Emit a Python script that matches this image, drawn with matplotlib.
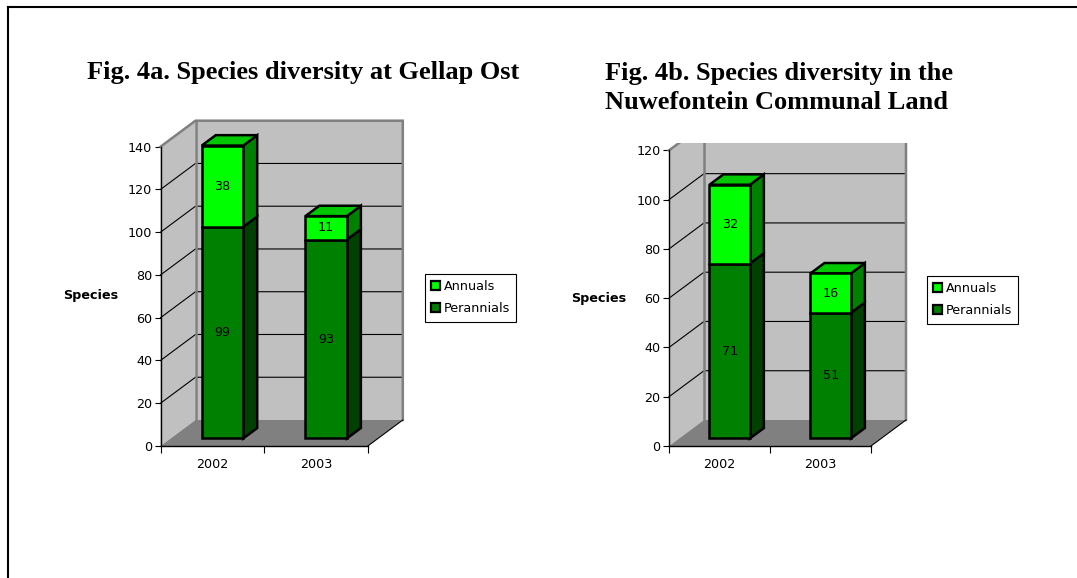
import matplotlib
matplotlib.use('Agg')
import matplotlib.pyplot as plt
from matplotlib.patches import Polygon, Rectangle, Patch
from matplotlib.lines import Line2D

# 데이터
years = ['2002', '2003']
gellap_per = [99, 93]
gellap_ann = [38, 11]
nuwe_per = [71, 51]
nuwe_ann = [32, 16]

title_a = 'Fig. 4a. Species diversity at Gellap Ost'
title_b = 'Fig. 4b. Species diversity in the\nNuwefontein Communal Land'

W, H = 1077, 578
fig = plt.figure(figsize=(W / 100, H / 100), dpi=100)

FS = 9.2  # 작은 글씨 크기

# 색상 (엑셀 3D 막대 느낌)
ann_front, ann_top, ann_side = '#00ff00', '#00c800', '#008000'
per_front, per_side = '#008000', '#004000'
wall, floor_c, border = '#c0c0c0', '#808080', '#808080'

DEPTH_X, DEPTH_Y = 35, 26   # 안쪽 깊이 (픽셀)
F0, F1 = 0.29, 0.69         # 막대 앞/뒤 면의 깊이 위치
ELW = 1.8                   # 막대 테두리 두께


def px_axes(x0, x1, ytop, ybot):
    return fig.add_axes([x0 / W, 1 - ybot / H, (x1 - x0) / W, (ybot - ytop) / H])


def draw_chart(ax, px_box, per, ann, ymax, step, clip_top=None):
    x0, x1, ytop, ybot = px_box
    ncat = len(per)
    ddx = DEPTH_X / ((x1 - x0) / ncat)
    ddy = DEPTH_Y / ((ybot - ytop) / ymax)

    def P(x, y, f):
        return (x + f * ddx, y + f * ddy)

    arts = []
    # 왼쪽 벽, 뒷벽, 바닥
    arts.append(ax.add_patch(Polygon([P(0, 0, 0), P(0, ymax, 0), P(0, ymax, 1), P(0, 0, 1)],
                                     fc=wall, ec='none', zorder=1)))
    arts.append(ax.add_patch(Polygon([P(0, 0, 1), P(ncat, 0, 1), P(ncat, ymax, 1), P(0, ymax, 1)],
                                     fc=wall, ec='none', zorder=1)))
    arts.append(ax.add_patch(Polygon([P(0, 0, 0), P(ncat, 0, 0), P(ncat, 0, 1), P(0, 0, 1)],
                                     fc=floor_c, ec='none', zorder=1)))
    # 격자선
    for v in range(step, ymax, step):
        pts = [P(0, v, 0), P(0, v, 1), P(ncat, v, 1)]
        arts += ax.plot([p[0] for p in pts], [p[1] for p in pts], color='k', lw=0.8, zorder=2)
    # 벽 테두리
    pts = [P(0, ymax, 0), P(0, ymax, 1), P(ncat, ymax, 1), P(ncat, 0, 1)]
    arts += ax.plot([p[0] for p in pts], [p[1] for p in pts], color=border, lw=1.8, zorder=2,
                    solid_joinstyle='miter')
    pts = [P(0, 0, 1), P(0, ymax, 1)]
    arts += ax.plot([p[0] for p in pts], [p[1] for p in pts], color=border, lw=1.8, zorder=2)
    pts = [P(ncat, 0, 0), P(ncat, 0, 1)]
    arts += ax.plot([p[0] for p in pts], [p[1] for p in pts], color='k', lw=0.8, zorder=2)

    for a in arts:
        a.set_clip_on(False)
    if clip_top is not None:
        clip_rect = Rectangle((-1, -ymax), ncat + 2, clip_top + ymax, transform=ax.transData)
        for a in arts:
            a.set_clip_on(True)
            a.set_clip_path(clip_rect)

    # 막대
    bw = 0.4
    for i in range(ncat):
        xc = i + 0.5
        xl, xr = xc - bw / 2, xc + bw / 2
        segs = [(0, per[i], per_side), (per[i], per[i] + ann[i], ann_side)]
        for b, t, fc_side in segs:
            ax.add_patch(Polygon([P(xr, b, F0), P(xr, t, F0), P(xr, t, F1), P(xr, b, F1)],
                                 fc=fc_side, ec='k', lw=ELW, zorder=3, clip_on=False,
                                 joinstyle='miter'))
        top = per[i] + ann[i]
        ax.add_patch(Polygon([P(xl, top, F0), P(xr, top, F0), P(xr, top, F1), P(xl, top, F1)],
                             fc=ann_top, ec='k', lw=ELW, zorder=3, clip_on=False, joinstyle='miter'))
    xs = [i + 0.5 + F0 * ddx for i in range(ncat)]
    ax.bar(xs, per, width=bw, bottom=F0 * ddy, color=per_front, edgecolor='k', lw=ELW,
           zorder=4, clip_on=False)
    ax.bar(xs, ann, width=bw, bottom=[p + F0 * ddy for p in per], color=ann_front,
           edgecolor='k', lw=ELW, zorder=4, clip_on=False)
    for i in range(ncat):
        ax.text(xs[i], F0 * ddy + per[i] / 2, str(per[i]), ha='center', va='center',
                fontsize=FS, zorder=5)
        ax.text(xs[i], F0 * ddy + per[i] + ann[i] / 2, str(ann[i]), ha='center', va='center',
                fontsize=FS, zorder=5)

    # 축 설정
    ax.set_xlim(0, ncat)
    ax.set_ylim(0, ymax)
    ax.set_facecolor('none')
    ax.spines['top'].set_visible(False)
    ax.spines['right'].set_visible(False)
    ax.spines['left'].set_linewidth(1.0)
    ax.spines['bottom'].set_linewidth(1.0)
    ax.spines['left'].set_zorder(6)
    ax.spines['bottom'].set_zorder(6)
    ax.set_yticks(range(0, ymax + 1, step))
    ax.set_xticks(range(ncat + 1))
    ax.set_xticklabels([])
    ax.set_xticks([i + 0.5 for i in range(ncat)], minor=True)
    ax.set_xticklabels(years, minor=True)
    ax.tick_params(axis='y', length=4, width=0.8, labelsize=FS, pad=2)
    ax.tick_params(axis='x', which='major', length=5, width=0.8)
    ax.tick_params(axis='x', which='minor', length=0, labelsize=FS, pad=9)


def add_legend(x, y):
    handles = [Patch(fc=ann_front, ec='k', lw=1.6, label='Annuals'),
               Patch(fc=per_front, ec='k', lw=1.6, label='Perannials')]
    leg = fig.legend(handles=handles, loc='upper left', bbox_to_anchor=(x / W, 1 - y / H),
                     frameon=True, fancybox=False, edgecolor='k', framealpha=1,
                     borderaxespad=0, handlelength=0.7, handleheight=0.7, handletextpad=0.25,
                     borderpad=0.5, labelspacing=0.7, fontsize=FS)
    leg.get_frame().set_linewidth(0.8)


# Fig. 4a
box_a = (160.5, 367.8, 146.7, 446)
ax_a = px_axes(*box_a)
draw_chart(ax_a, box_a, gellap_per, gellap_ann, 140, 20)
fig.text(87 / W, 1 - 72.6 / H, title_a, ha='left', va='center', family='Liberation Serif',
         fontweight='bold', fontsize=19)
fig.text(91 / W, 1 - 296 / H, 'Species', ha='center', va='center', fontweight='bold', fontsize=FS)
add_legend(425, 274)

# Fig. 4b
box_b = (669, 871, 150.4, 446)
ax_b = px_axes(*box_b)
draw_chart(ax_b, box_b, nuwe_per, nuwe_ann, 120, 20, clip_top=123)
fig.text(605 / W, 1 - 88 / H, title_b, ha='left', va='center', family='Liberation Serif',
         fontweight='bold', fontsize=19, linespacing=1.28)
fig.text(599 / W, 1 - 298.6 / H, 'Species', ha='center', va='center', fontweight='bold', fontsize=FS)
add_legend(927, 276)

# 바깥 테두리
fig.add_artist(Line2D([8 / W, 1], [1 - 7 / H, 1 - 7 / H], color='k', lw=1.5))
fig.add_artist(Line2D([8 / W, 8 / W], [0, 1 - 7 / H], color='k', lw=1.5))

fig.savefig('out.png', dpi=100)
